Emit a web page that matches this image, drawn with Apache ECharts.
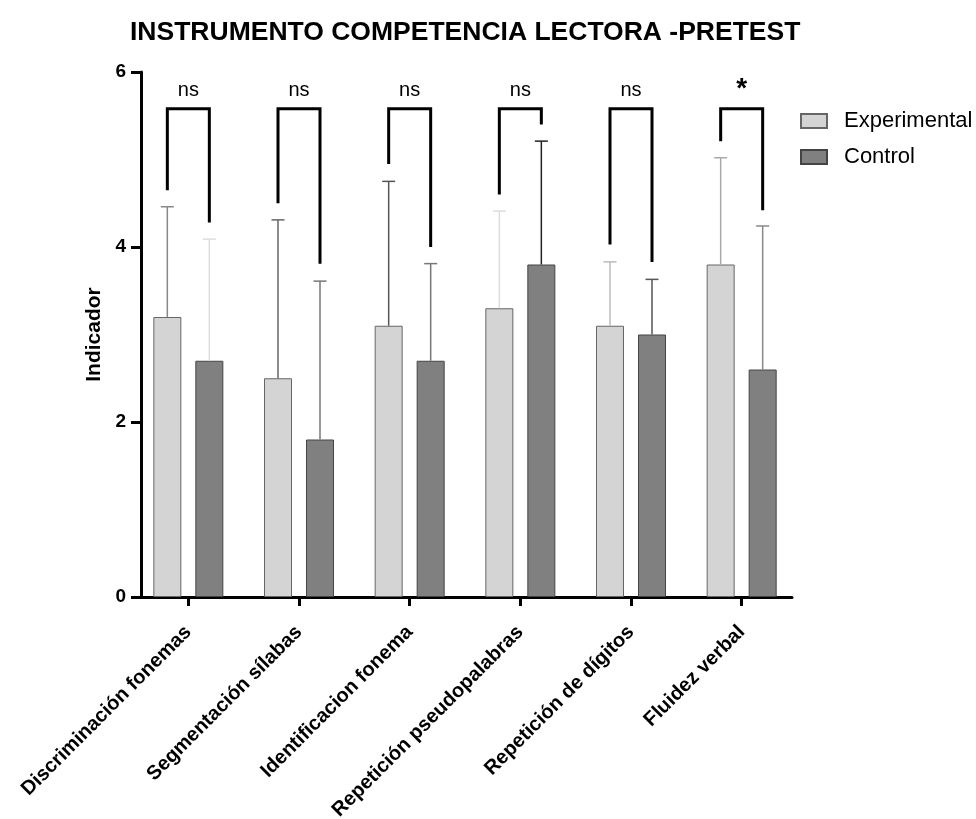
<!DOCTYPE html>
<html>
<head>
<meta charset="utf-8">
<script src="https://cdn.jsdelivr.net/npm/echarts@6/dist/echarts.min.js"></script>
<style>html,body{margin:0;padding:0;background:#fff;}#c{width:976px;height:819px;}</style>
</head>
<body>
<div id="c"></div>
<script>
// ---- data ----
var categories = ['Discriminación fonemas', 'Segmentación sílabas', 'Identificacion fonema', 'Repetición pseudopalabras', 'Repetición de dígitos', 'Fluidez verbal'];
var expMean = [3.2, 2.5, 3.1, 3.3, 3.1, 3.8];
var expUpper = [4.46, 4.31, 4.75, 4.41, 3.83, 5.02];
var ctrlMean = [2.7, 1.8, 2.7, 3.8, 3.0, 2.6];
var ctrlUpper = [4.09, 3.61, 3.81, 5.21, 3.63, 4.24];
var bracketTop = [5.58, 5.58, 5.58, 5.58, 5.58, 5.58];
var bracketLeftEnd = [4.65, 4.50, 4.95, 4.60, 4.03, 5.21];
var bracketRightEnd = [4.28, 3.81, 4.00, 5.40, 3.83, 4.42];
var sigLabels = ['ns', 'ns', 'ns', 'ns', 'ns', '*'];

// ---- styles ----
var expErrColors = ['#888', '#666', '#555', '#ddd', '#bbb', '#aaa'];
var ctrlErrColors = ['#ddd', '#777', '#777', '#222', '#555', '#888'];
var BAR_W = 28, BAR_GAP = 14;
var OFF = (BAR_W + BAR_GAP) / 2;
var FONT = 'Liberation Sans, Arial, sans-serif';

function errData(mean, upper) {
  return mean.map(function (m, i) { return [i, m, upper[i]]; });
}
function errRender(sign, colors) {
  return function (params, api) {
    var i = api.value(0);
    var p0 = api.coord([i, api.value(1)]);
    var p1 = api.coord([i, api.value(2)]);
    var x = p0[0] + sign * OFF;
    var col = colors[params.dataIndex];
    return {
      type: 'group',
      children: [
        { type: 'line', shape: { x1: x, y1: p0[1], x2: x, y2: p1[1] }, style: { stroke: col, lineWidth: 1.5 } },
        { type: 'line', shape: { x1: x - 6.5, y1: p1[1], x2: x + 6.5, y2: p1[1] }, style: { stroke: col, lineWidth: 1.5 } }
      ]
    };
  };
}

var bracketData = categories.map(function (c, i) {
  return [i, bracketTop[i], bracketLeftEnd[i], bracketRightEnd[i]];
});

var chart = echarts.init(document.getElementById('c'));
chart.setOption({
  animation: false,
  backgroundColor: '#fff',
  title: {
    text: 'INSTRUMENTO COMPETENCIA LECTORA -PRETEST',
    left: 125, top: 14,
    textStyle: { fontFamily: FONT, fontSize: 26.5, fontWeight: 'bold', color: '#000' }
  },
  legend: {
    data: ['Experimental', 'Control'],
    orient: 'vertical',
    left: 795, top: 105,
    itemWidth: 26, itemHeight: 14, itemGap: 14,
    icon: 'rect',
    textStyle: { fontFamily: FONT, fontSize: 22, color: '#000', padding: [0, 0, 0, 12] }
  },
  grid: [
    { left: 133, width: 664, top: 72, height: 525, containLabel: false, outerBoundsMode: 'none' },
    { left: 141, width: 651, top: 72, height: 525, containLabel: false, outerBoundsMode: 'none' }
  ],
  xAxis: [
    {
      type: 'category', gridIndex: 0, data: categories,
      axisLine: { show: false },
      axisTick: { show: true, alignWithLabel: true, length: 9, lineStyle: { color: '#000', width: 3 } },
      axisLabel: { rotate: 45, margin: 32, fontFamily: FONT, fontSize: 20, fontWeight: 'bold', color: '#000', interval: 0 }
    },
    {
      type: 'value', gridIndex: 1, min: 0, max: 1,
      axisLine: { show: true, lineStyle: { color: '#000', width: 3 } },
      axisTick: { show: false }, axisLabel: { show: false }, splitLine: { show: false }
    }
  ],
  yAxis: [
    { type: 'value', gridIndex: 0, min: 0, max: 6, interval: 2, show: false },
    {
      type: 'value', gridIndex: 1, min: 0, max: 6, interval: 2,
      name: 'Indicador', nameLocation: 'middle', nameGap: 36, nameRotate: 90,
      nameTextStyle: { fontFamily: FONT, fontSize: 21, fontWeight: 'bold', color: '#000' },
      axisLine: { show: true, lineStyle: { color: '#000', width: 3 } },
      axisTick: { show: true, length: 10, lineStyle: { color: '#000', width: 3 } },
      axisLabel: { fontFamily: FONT, fontSize: 19, fontWeight: 'bold', color: '#000', margin: 15 },
      splitLine: { show: false }
    }
  ],
  series: [
    {
      name: 'Experimental', type: 'bar', xAxisIndex: 0, yAxisIndex: 0,
      data: expMean, barWidth: BAR_W, barGap: (BAR_GAP / BAR_W * 100) + '%',
      itemStyle: { color: '#d4d4d4', borderColor: '#666', borderWidth: 1 }
    },
    {
      name: 'Control', type: 'bar', xAxisIndex: 0, yAxisIndex: 0,
      data: ctrlMean, barWidth: BAR_W,
      itemStyle: { color: '#808080', borderColor: '#444', borderWidth: 1 }
    },
    {
      type: 'custom', xAxisIndex: 0, yAxisIndex: 0, z: 3,
      data: errData(expMean, expUpper), renderItem: errRender(-1, expErrColors)
    },
    {
      type: 'custom', xAxisIndex: 0, yAxisIndex: 0, z: 3,
      data: errData(ctrlMean, ctrlUpper), renderItem: errRender(1, ctrlErrColors)
    },
    {
      type: 'custom', xAxisIndex: 0, yAxisIndex: 0, z: 4,
      data: bracketData,
      renderItem: function (params, api) {
        var i = api.value(0);
        var pt = api.coord([i, api.value(1)]);
        var pl = api.coord([i, api.value(2)]);
        var pr = api.coord([i, api.value(3)]);
        var xl = pt[0] - OFF, xr = pt[0] + OFF;
        var lab = sigLabels[params.dataIndex];
        var star = lab === '*';
        return {
          type: 'group',
          children: [
            { type: 'polyline', shape: { points: [[xl, pl[1]], [xl, pt[1]], [xr, pt[1]], [xr, pr[1]]] },
              style: { stroke: '#000', lineWidth: 3, fill: null } },
            { type: 'text', style: { text: lab, x: pt[0], y: pt[1] - (star ? 5 : 8), align: 'center', verticalAlign: 'bottom',
              fontFamily: FONT, fontSize: star ? 28 : 20, fontWeight: star ? 'bold' : 'normal', fill: '#000' } }
          ]
        };
      }
    }
  ]
});
</script>
</body>
</html>
